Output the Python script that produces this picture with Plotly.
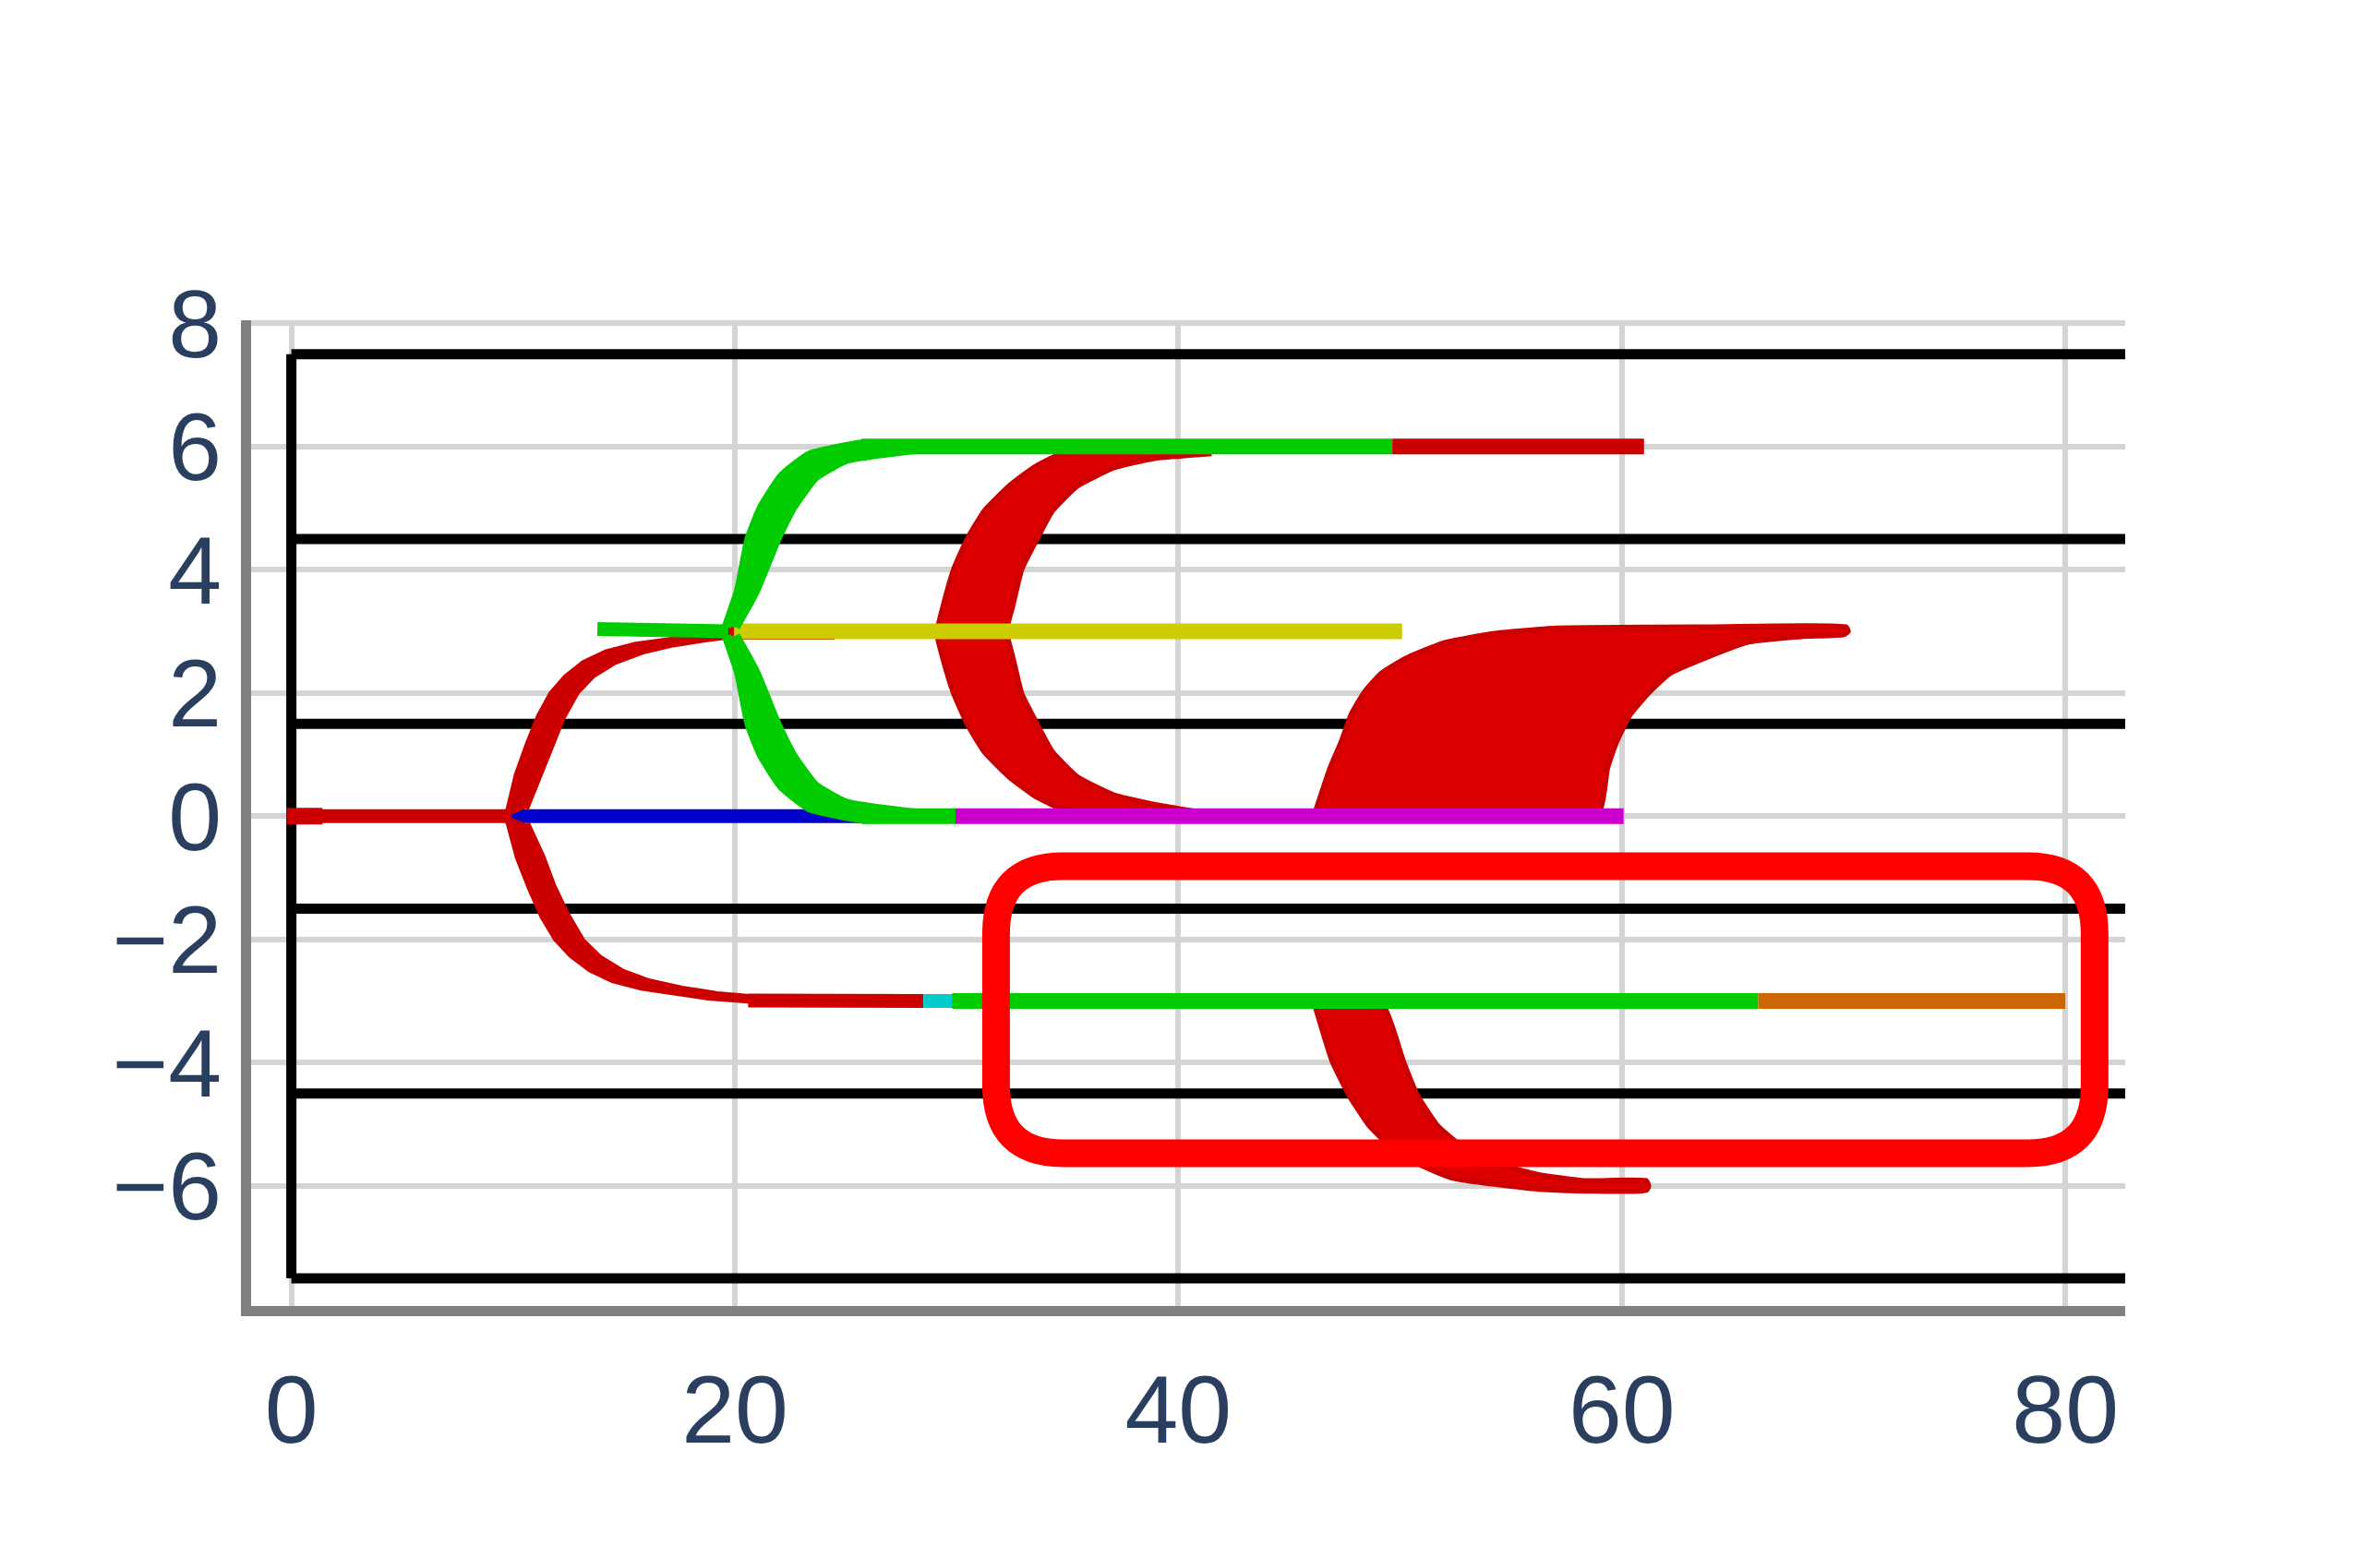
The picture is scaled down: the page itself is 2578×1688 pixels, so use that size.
import plotly.graph_objects as go

# ---- data ----
GRID_Y = [-7.5, -4.5, -1.5, 1.5, 4.5, 7.5]

# single trajectories (centre lines)
TRUNK_X = [-0.2, 9.8]
TRUNK_Y = [0.0, 0.0]
TRUNK_HEAD_X = [-0.2, 1.4]
TRUNK_HEAD_Y = [0.0, 0.0]

RED_MID_X = [19.6, 24.5]
RED_MID_Y = [2.98, 2.98]

RED_LOW_X = [20.6, 28.5]
RED_LOW_Y = [-2.99, -3.0]

BLUE_X = [9.9, 26.1]
BLUE_Y = [0.0, 0.0]

GREEN_STUB_X = [13.8, 19.7]
GREEN_STUB_Y = [3.04, 3.0]

YELLOW_X = [19.96, 50.09]
YELLOW_Y = [3.0, 3.0]

GREEN_TOP_X = [25.7, 49.65]
GREEN_TOP_Y = [6.0, 6.0]

RED_TOP_X = [49.65, 61.0]
RED_TOP_Y = [6.0, 6.0]

GREEN_ZERO_X = [25.7, 30.0]
GREEN_ZERO_Y = [0.0, 0.0]

MAGENTA_X = [29.95, 60.08]
MAGENTA_Y = [0.0, 0.0]

CYAN_X = [28.5, 35.7]
CYAN_Y = [-3.0, -3.0]

GREEN_LOW_X = [29.8, 66.15]
GREEN_LOW_Y = [-3.0, -3.0]

ORANGE_X = [66.15, 80.0]
ORANGE_Y = [-3.0, -3.0]

# bundles of trajectories, given as outlines
RED_UP_BAND_X = [9.75, 10.2, 10.7, 11.2, 11.75, 12.4, 13.2, 14.2, 15.5, 17.0, 18.5, 19.8,
                 20.4, 18.8, 17.2, 15.8, 14.6, 13.6, 12.85, 12.2, 11.7, 11.2, 10.55]
RED_UP_BAND_Y = [0.0, 0.67, 1.17, 1.62, 1.98, 2.25, 2.48, 2.65, 2.77, 2.86, 2.92, 2.97,
                 2.96, 2.89, 2.8, 2.68, 2.52, 2.3, 2.02, 1.6, 1.15, 0.67, 0.12]

RED_DN_BAND_X = [9.75, 10.25, 10.8, 11.35, 11.95, 12.65, 13.5, 14.5, 15.8, 17.3, 18.8, 20.6,
                 21.4, 19.2, 17.6, 16.1, 14.9, 13.9, 13.1, 12.4, 11.8, 11.3, 10.6]
RED_DN_BAND_Y = [0.0, -0.67, -1.17, -1.62, -1.98, -2.25, -2.48, -2.65, -2.77, -2.86, -2.93, -2.98,
                 -2.97, -2.9, -2.81, -2.69, -2.53, -2.31, -2.03, -1.6, -1.15, -0.67, -0.12]

GREEN_UP_BAND_X = [19.61, 20.17, 20.65, 21.21, 22.11, 23.36, 25.72, 29.33, 27.8, 25.02,
                   23.63, 22.6, 21.9, 20.93, 20.03]
GREEN_UP_BAND_Y = [3.07, 3.66, 4.51, 5.01, 5.51, 5.86, 6.04, 5.99, 5.94, 5.79,
                   5.51, 5.01, 4.51, 3.66, 3.07]

GREEN_DN_BAND_X = [19.61, 20.17, 20.65, 21.21, 22.11, 23.36, 25.72, 29.33, 27.8, 25.02,
                   23.63, 22.6, 21.9, 20.93, 20.03]
GREEN_DN_BAND_Y = [2.93, 2.34, 1.49, 0.99, 0.49, 0.14, -0.04, 0.01, 0.06, 0.21,
                   0.49, 0.99, 1.49, 2.34, 2.93]

RED_C_BAND_X = [44.0, 40.0, 36.2, 34.6, 33.49, 32.38, 31.27, 30.5, 29.88, 29.4, 29.12,
                29.4, 29.88, 30.5, 31.27, 32.38, 33.49, 34.6, 36.0, 38.5, 41.4,
                38.9, 37.1, 35.43, 34.32, 33.63, 32.93, 32.52, 32.24,
                32.52, 32.93, 33.63, 34.32, 35.43, 37.1, 38.9, 41.5]
RED_C_BAND_Y = [5.94, 5.95, 5.95, 5.86, 5.66, 5.36, 4.96, 4.51, 4.01, 3.41, 2.97,
                2.55, 1.99, 1.49, 1.04, 0.64, 0.34, 0.14, 0.05, 0.04, 0.03,
                0.19, 0.34, 0.64, 1.04, 1.49, 1.99, 2.59, 3.0,
                3.41, 4.01, 4.51, 4.96, 5.36, 5.66, 5.81, 5.89]

RED_RISE_BAND_X = [46.15, 46.86, 47.37, 47.8, 48.39, 49.16, 50.26, 51.96, 54.17, 57.05,
                   64.0, 70.1, 70.2, 70.0, 68.1, 65.72, 63.68, 62.16, 61.22, 60.37, 59.77,
                   59.35, 58.93, 52.0]
RED_RISE_BAND_Y = [0.03, 0.79, 1.22, 1.65, 2.01, 2.32, 2.56, 2.81, 2.96, 3.05,
                   3.07, 3.07, 3.0, 2.95, 2.92, 2.83, 2.56, 2.32, 2.01, 1.65, 1.22,
                   0.79, 0.05, 0.04]

RED_FALL_BAND_X = [46.15, 46.95, 47.71, 48.61, 49.45, 50.7, 52.36, 56.25, 61.1, 61.2,
                   61.1, 58.33, 56.25, 54.17, 52.64, 51.67, 50.77, 50.14, 49.24, 47.7]
RED_FALL_BAND_Y = [-3.05, -3.98, -4.53, -5.02, -5.32, -5.62, -5.87, -6.05, -6.07, -6.0,
                   -5.92, -5.92, -5.82, -5.62, -5.32, -5.02, -4.53, -3.98, -3.08, -3.06]

# highlight box
BOX_X0, BOX_X1 = 31.78, 81.32
BOX_Y0, BOX_Y1 = -5.47, -0.81
BOX_RX, BOX_RY = 3.0, 1.1

X_TICKS = [0, 20, 40, 60, 80]
Y_TICKS = [-6, -4, -2, 0, 2, 4, 6, 8]

RED = "#cc0000"
GREEN = "#00cc00"

fig = go.Figure()

# black frame lines
frame_x, frame_y = [0, 0, None], [-7.5, 7.5, None]
for gy in GRID_Y:
    frame_x += [0, 100, None]
    frame_y += [gy, gy, None]
fig.add_trace(go.Scatter(x=frame_x, y=frame_y, mode="lines",
                         line=dict(color="black", width=11)))


def line(x, y, color, width=17):
    fig.add_trace(go.Scatter(x=x, y=y, mode="lines", line=dict(color=color, width=width)))


def band(x, y, color, fill, edge=6, shape="spline"):
    fig.add_trace(go.Scatter(x=x, y=y, mode="lines", fill="toself", fillcolor=fill,
                             line=dict(color=color, width=edge, shape=shape,
                                       smoothing=0.45)))


line(TRUNK_X, TRUNK_Y, RED, 15)
line(TRUNK_HEAD_X, TRUNK_HEAD_Y, RED, 18)
line(BLUE_X, BLUE_Y, "#0000cc", 15)
line(RED_MID_X, RED_MID_Y, RED, 15)
line(RED_LOW_X, RED_LOW_Y, RED, 15)
band(RED_UP_BAND_X, RED_UP_BAND_Y, RED, RED, 8, "linear")
band(RED_DN_BAND_X, RED_DN_BAND_Y, RED, RED, 8, "linear")

band(RED_C_BAND_X, RED_C_BAND_Y, RED, "#dd0000")
band(RED_RISE_BAND_X, RED_RISE_BAND_Y, RED, "#dd0000")
band(RED_FALL_BAND_X, RED_FALL_BAND_Y, RED, "#dd0000")

line(YELLOW_X, YELLOW_Y, "#cccc00")
line(GREEN_STUB_X, GREEN_STUB_Y, GREEN, 15)
band(GREEN_UP_BAND_X, GREEN_UP_BAND_Y, GREEN, GREEN, 10)
band(GREEN_DN_BAND_X, GREEN_DN_BAND_Y, GREEN, GREEN, 10)
line(GREEN_TOP_X, GREEN_TOP_Y, GREEN)
line(RED_TOP_X, RED_TOP_Y, RED)
line(GREEN_ZERO_X, GREEN_ZERO_Y, GREEN)
line(MAGENTA_X, MAGENTA_Y, "#cc00cc")
line(CYAN_X, CYAN_Y, "#00cccc", 15)
line(GREEN_LOW_X, GREEN_LOW_Y, GREEN)
line(ORANGE_X, ORANGE_Y, "#cc6600")

box_path = (
    f"M {BOX_X0 + BOX_RX},{BOX_Y1} L {BOX_X1 - BOX_RX},{BOX_Y1} "
    f"Q {BOX_X1},{BOX_Y1} {BOX_X1},{BOX_Y1 - BOX_RY} L {BOX_X1},{BOX_Y0 + BOX_RY} "
    f"Q {BOX_X1},{BOX_Y0} {BOX_X1 - BOX_RX},{BOX_Y0} L {BOX_X0 + BOX_RX},{BOX_Y0} "
    f"Q {BOX_X0},{BOX_Y0} {BOX_X0},{BOX_Y0 + BOX_RY} L {BOX_X0},{BOX_Y1 - BOX_RY} "
    f"Q {BOX_X0},{BOX_Y1} {BOX_X0 + BOX_RX},{BOX_Y1} Z"
)
fig.add_shape(type="path", path=box_path, xref="x", yref="y",
              line=dict(color="#ff0000", width=30), layer="above")

fig.update_layout(
    width=2570,
    height=1680,
    showlegend=False,
    paper_bgcolor="white",
    plot_bgcolor="white",
    margin=dict(l=264, r=276, t=339, b=273),
    font=dict(family="Arial, Liberation Sans, sans-serif", color="#2a3f5f", size=104),
)
fig.update_xaxes(range=[-1.815, 82.7], tickvals=X_TICKS, showgrid=True,
                 gridcolor="#d4d4d4", gridwidth=6, zeroline=False,
                 showline=True, linecolor="#808080", linewidth=11,
                 ticklabelstandoff=12)
fig.update_yaxes(range=[-7.95, 8.05], tickvals=Y_TICKS, showgrid=True,
                 gridcolor="#d4d4d4", gridwidth=6, zeroline=False,
                 showline=True, linecolor="#808080", linewidth=11,
                 ticklabelstandoff=0)

fig.write_html("out.html")
